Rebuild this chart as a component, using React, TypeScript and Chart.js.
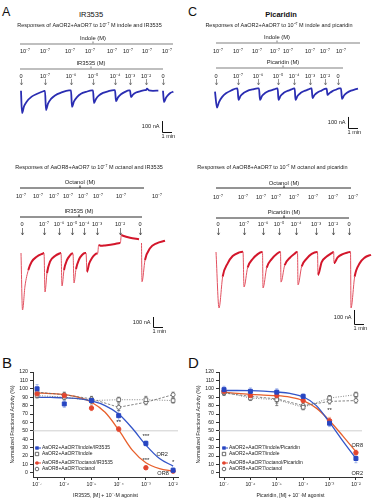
import React, { useEffect, useRef } from 'react';
import { Chart, registerables } from 'chart.js';

Chart.register(...registerables);
if (typeof document !== 'undefined') document.body.style.margin = '0';

const FONT = '"Liberation Sans", Arial, Helvetica, sans-serif';
Chart.defaults.font.family = FONT;
Chart.defaults.color = '#222';

const SUP: Record<string, string> = { '-': '⁻', '0': '⁰', '1': '¹', '2': '²', '3': '³', '4': '⁴', '5': '⁵', '6': '⁶', '7': '⁷', '8': '⁸', '9': '⁹' };
const sup = (v: number) => String(v).split('').map((c) => SUP[c] ?? c).join('');

// ---------------- Panels A / C : current traces  [time (s), current (nA)] ----------------
const traceA_indole: any[] = [
  [126, 2], [132, -200], [144, -140], [160, -97], [190, -51], [220, -27], [264, 0],
  [270, 2], [276, -173], [288, -115], [306, -72], [330, -40], [366, -15], [414, 5],
  [426, 5], [432, -145], [444, -95], [462, -55], [486, -25], [516, -8], [552, 5],
  [558, 5], [564, -109], [576, -72], [594, -40], [618, -17], [648, -3], [684, 8],
  [690, 8], [696, -91], [708, -58], [726, -30], [750, -8], [774, 5],
  [780, 5], [786, -55], [798, -32], [816, -14], [840, -3], [870, 8],
  [876, 8], [882, 22], [894, 6], [918, 2], [950, 3],
  [962, null],
  [978, 2], [984, -100], [996, -62], [1008, -38], [1024, -16], [1040, -6],
];
const traceA_octanol: any[] = [
  [126, 0], [135, -570], [150, -330], [170, -170], [190, -87], [220, -37], [260, -3],
  [264, 0], [270, -390], [282, -200], [300, -87], [330, -30], [360, -3],
  [366, 0], [372, -330], [384, -170], [402, -70], [420, -25], [432, -5],
  [438, -5], [444, -300], [456, -160], [474, -65], [492, -20], [510, 0],
  [516, 0], [522, -190], [534, -110], [552, -50], [570, -15], [580, -5],
  [586, -5], [592, 80], [606, 72], [630, 76], [690, 90], [720, 100],
  [722, 100], [728, 180], [738, 172], [780, 152], [834, 138],
  [843, null],
  [849, 100], [852, -287], [870, -70], [900, 47], [940, 97], [990, 123],
];
const traceC_indole: any[] = [
  [174, -15], [186, -160], [198, -110], [216, -65], [240, -30], [270, -5], [306, 15],
  [309, 15], [315, -90], [327, -55], [345, -28], [369, -8], [399, 5], [429, 15],
  [438, 15], [444, -90], [456, -55], [474, -28], [498, -8], [528, 5], [546, 15],
  [550, 15], [555, -90], [567, -55], [585, -28], [609, -8], [633, 5], [648, 15],
  [652, 15], [657, -90], [669, -55], [687, -28], [711, -8], [735, 5], [750, 15],
  [754, 15], [759, -73], [771, -45], [789, -22], [813, -5], [840, 12],
  [844, 12], [849, -45], [861, -28], [879, -10], [903, 5], [918, 15],
  [930, 15], [936, -80], [948, -50], [966, -25], [990, -5], [1014, 5], [1032, 12],
];
const traceC_octanol: any[] = [
  [180, 0], [198, -400], [220, -176], [250, -81], [280, -29], [320, -3],
  [342, 2], [348, -250], [370, -110], [400, -50], [430, -15], [456, 0],
  [459, 0], [462, -257], [484, -113], [514, -51], [544, -15], [564, 0],
  [567, 0], [570, -215], [592, -95], [622, -43], [652, -12], [666, 0],
  [669, 0], [672, -235], [694, -103], [724, -47], [754, -14], [786, 0],
  [789, 0], [792, -164], [814, -72], [844, -33], [874, -8], [885, 0],
  [886, 0], [888, -79], [910, -38], [940, -15], [970, -3], [984, 0],
  [987, 0], [990, -400], [1012, -176], [1042, -81], [1072, -40], [1110, -20],
];

const repellentLabels = ['0', '10⁻⁷', '10⁻⁶', '10⁻⁵', '10⁻⁴', '10⁻³', '10⁻²', '0'];
const agonistLabel = '10⁻⁷';

const A_indole_stim = [126, 270, 426, 558, 690, 780, 876, 978];
const A_indole_ago = [150, 270, 420, 540, 672, 768, 882, 1002];
const A_octanol_stim = [132, 264, 354, 432, 504, 582, 720, 840];
const A_octanol_ago = [126, 228, 324, 408, 498, 588, 726, 942];
const C_indole_stim = [180, 312, 432, 552, 648, 744, 834, 912];
const C_indole_ago = [192, 312, 426, 534, 612, 744, 834, 930];
const C_octanol_stim = [192, 348, 462, 558, 660, 780, 882, 978];
const C_octanol_ago = [192, 342, 450, 540, 648, 762, 882, 1002];

// ---------------- Panels B / D : dose–response ----------------
const concLog = [-7, -6, -5, -4, -3, -2];
const fitLog = [-7, -6.5, -6, -5.5, -5, -4.5, -4, -3.5, -3, -2.5, -2];
const xTicks = [-7, -6, -5, -4, -3, -2];
const yTicks = [0, 10, 20, 30, 40, 50, 60, 70, 80, 90, 100, 110, 120];

const B_or2_ir3535 = [100, 82, 86, 68, 35, 3];
const B_or2_ir3535_err = [5, 4, 3, 6, 3, 3];
const B_or2_indole = [92, 90, 86, 87, 87, 86];
const B_or2_indole_err = [3, 3, 4, 3, 4, 3];
const B_or8_ir3535 = [94, 92, 77, 52, 6, 2];
const B_or8_ir3535_err = [4, 3, 3, 3, 2, 2];
const B_or8_octanol = [96, 93, 88, 78, 84, 93];
const B_or8_octanol_err = [3, 3, 3, 4, 3, 3];
const B_fit_or2 = [90, 89.7, 89.3, 88.3, 85.5, 80, 70, 53, 33, 17, 8];
const B_fit_or8 = [95, 94.3, 93, 90, 84, 72, 51, 27, 12, 5, 2];

const D_or2_picaridin = [99, 97, 96, 91, 59, 17];
const D_or2_picaridin_err = [4, 4, 4, 3, 4, 5];
const D_or2_indole = [96, 89, 87, 78, 89, 93];
const D_or2_indole_err = [3, 3, 7, 3, 3, 3];
const D_or8_picaridin = [97, 92, 92, 86, 62, 24];
const D_or8_picaridin_err = [3, 3, 3, 3, 4, 3];
const D_or8_octanol = [95, 91, 88, 80, 85, 86];
const D_or8_octanol_err = [3, 3, 5, 3, 3, 3];
const D_fit_or2 = [98, 98, 97.8, 97.3, 96.2, 94.5, 90.5, 80, 60, 38, 17];
const D_fit_or8 = [96, 94.5, 93.3, 92.5, 91.8, 90, 86, 77, 62, 44, 25];

const B_notes = [
  { x: -2.4, y: 22, t: 'OR2' }, { x: -2.37, y: -1, t: 'OR8' },
  { x: -3, y: 43, t: '***' }, { x: -3, y: 15, t: '***' }, { x: -4, y: 60, t: '**' }, { x: -2, y: 12, t: '*' },
];
const D_notes = [
  { x: -1.95, y: 32, t: 'OR8' }, { x: -1.95, y: -1, t: 'OR2' }, { x: -3, y: 74, t: '**' },
];

const BLUE = '#2746c2';
const RED = '#e2452f';
const BLUE_CURVE = '#3355c8';
const RED_CURVE = '#e8602c';

// ---------------- trace chart ----------------
function makeTracePlugin(s: any) {
  return {
    id: 'traceHeader',
    afterDatasetsDraw(chart: any) {
      const { ctx } = chart;
      const x = chart.scales.x;
      const y = chart.scales.y;
      const py = (v: number) => v - s.top;
      const X = (t: number) => x.getPixelForValue(t);
      ctx.save();
      ctx.textAlign = 'center';
      ctx.textBaseline = 'middle';
      ctx.fillStyle = '#222';
      ctx.font = `5.5px ${FONT}`;
      ctx.fillText(s.title, s.titleX, py(s.hy.title));
      ctx.font = `5.8px ${FONT}`;
      ctx.fillText(s.agoName, X(s.agoNameT), py(s.hy.agoName));
      ctx.fillText(s.repName, X(s.repNameT), py(s.hy.repName));
      ctx.strokeStyle = s.lineColor;
      ctx.lineWidth = s.lineWidth;
      const hline = (t0: number, t1: number, yy: number, tc: number) => {
        ctx.beginPath();
        ctx.moveTo(X(t0), yy);
        ctx.lineTo(X(t1), yy);
        ctx.moveTo(X(tc), yy);
        ctx.lineTo(X(tc), yy - 2.5);
        ctx.stroke();
      };
      hline(s.agoLine[0], s.agoLine[1], py(s.hy.agoLine), s.agoNameT);
      hline(s.repLine[0], s.repLine[1], py(s.hy.repLine), s.repNameT);
      ctx.font = `5.6px ${FONT}`;
      s.agoTimes.forEach((t: number) => ctx.fillText(agonistLabel, X(t), py(s.hy.agoLabels)));
      s.stimTimes.forEach((t: number, i: number) => ctx.fillText(repellentLabels[i], X(t), py(s.hy.repLabels)));
      ctx.strokeStyle = s.arrowColor;
      ctx.lineWidth = 0.7;
      s.stimTimes.forEach((t: number) => {
        const px = Math.round(X(t)) + 0.5;
        const a = py(s.hy.arrowTop);
        const b = py(s.hy.arrowBottom);
        ctx.beginPath();
        ctx.moveTo(px, a);
        ctx.lineTo(px, b);
        ctx.moveTo(px - 1.2, b - 2.2);
        ctx.lineTo(px, b);
        ctx.lineTo(px + 1.2, b - 2.2);
        ctx.stroke();
      });
      const bx = Math.round(X(s.bar.t)) + 0.5;
      const by0 = y.getPixelForValue(s.bar.v0);
      const by1 = Math.round(y.getPixelForValue(s.bar.v1)) + 0.5;
      const bx1 = X(s.bar.t + s.bar.dt);
      ctx.strokeStyle = '#111';
      ctx.lineWidth = 1;
      ctx.beginPath();
      ctx.moveTo(bx, by0);
      ctx.lineTo(bx, by1);
      ctx.lineTo(bx1, by1);
      ctx.stroke();
      ctx.font = `5.6px ${FONT}`;
      ctx.textAlign = 'right';
      ctx.fillText('100 nA', bx - 3, (by0 + by1) / 2);
      ctx.textAlign = 'left';
      ctx.textBaseline = 'top';
      ctx.fillText('1 min', bx - 1, by1 + 1.5);
      ctx.restore();
    },
  };
}

function TraceChart({ s }: any) {
  const ref = useRef<HTMLCanvasElement>(null);
  useEffect(() => {
    const steepness = (c: any) => Math.abs(c.p1.y - c.p0.y) / Math.max(0.5, Math.abs(c.p1.x - c.p0.x));
    const segment = s.steep
      ? {
          borderColor: (c: any) => (steepness(c) > 4 ? s.steep : s.color),
          borderWidth: (c: any) => (steepness(c) > 4 ? 1 : s.width),
        }
      : undefined;
    const chart = new Chart(ref.current as any, {
      type: 'line',
      data: {
        datasets: [
          {
            data: s.data.map((p: any) => ({ x: p[0], y: p[1] })),
            borderColor: s.color,
            borderWidth: s.width,
            pointRadius: 0,
            cubicInterpolationMode: 'monotone',
            spanGaps: false,
            segment,
          } as any,
        ],
      },
      options: {
        animation: false,
        responsive: false,
        events: [],
        layout: { padding: { top: s.padTop, left: 0, right: 0, bottom: 0 } },
        scales: {
          x: { type: 'linear', display: false, min: 0, max: s.xMax },
          y: { type: 'linear', display: false, min: s.yMin, max: s.yMax },
        },
        plugins: { legend: { display: false }, tooltip: { enabled: false } },
      },
      plugins: [makeTracePlugin(s)],
    });
    return () => chart.destroy();
  }, []);
  return (
    <canvas ref={ref} width={s.w} height={s.h}
      style={{ position: 'absolute', left: s.left, top: s.top, width: s.w, height: s.h }} />
  );
}

// ---------------- dose-response chart ----------------
function makeDosePlugin(s: any) {
  return {
    id: 'doseExtras',
    beforeDatasetsDraw(chart: any) {
      const { ctx, chartArea: ca } = chart;
      const x = chart.scales.x;
      const y = chart.scales.y;
      ctx.save();
      ctx.strokeStyle = '#c4c4c4';
      ctx.lineWidth = 0.8;
      const y50 = y.getPixelForValue(50);
      ctx.beginPath();
      ctx.moveTo(ca.left, y50);
      ctx.lineTo(ca.right, y50);
      ctx.stroke();
      chart.data.datasets.forEach((ds: any) => {
        if (!ds.errors) return;
        ctx.strokeStyle = ds.errColor;
        ctx.lineWidth = 0.8;
        ds.data.forEach((p: any, j: number) => {
          const e = ds.errors[j];
          const px = x.getPixelForValue(p.x);
          const a = y.getPixelForValue(p.y + e);
          const b = y.getPixelForValue(p.y - e);
          ctx.beginPath();
          ctx.moveTo(px, a); ctx.lineTo(px, b);
          ctx.moveTo(px - 1.5, a); ctx.lineTo(px + 1.5, a);
          ctx.moveTo(px - 1.5, b); ctx.lineTo(px + 1.5, b);
          ctx.stroke();
        });
      });
      ctx.restore();
    },
    afterDatasetsDraw(chart: any) {
      const { ctx, chartArea: ca } = chart;
      const x = chart.scales.x;
      const y = chart.scales.y;
      ctx.save();
      ctx.fillStyle = '#222';
      ctx.textAlign = 'center';
      ctx.textBaseline = 'middle';
      s.notes.forEach((n: any) => {
        ctx.font = `${n.t.startsWith('*') ? 6 : 5.6}px ${FONT}`;
        ctx.fillText(n.t, x.getPixelForValue(n.x), y.getPixelForValue(n.y));
      });
      const lx = ca.left + s.legendDx;
      const rows = [ca.bottom - 29, ca.bottom - 23, ca.bottom - 14, ca.bottom - 8];
      ctx.font = `5px ${FONT}`;
      ctx.textAlign = 'left';
      s.legend.forEach((it: any, i: number) => {
        const yy = rows[i];
        if (it.line) {
          ctx.strokeStyle = it.color;
          ctx.lineWidth = 1;
          ctx.beginPath();
          ctx.moveTo(lx - 2, yy);
          ctx.lineTo(lx + 4, yy);
          ctx.stroke();
        }
        ctx.lineWidth = 0.8;
        ctx.beginPath();
        if (it.shape === 'rect') ctx.rect(lx - 1.7, yy - 1.7, 3.4, 3.4);
        else ctx.arc(lx, yy, 1.8, 0, Math.PI * 2);
        if (it.filled) { ctx.fillStyle = it.color; ctx.fill(); }
        else { ctx.fillStyle = '#fff'; ctx.fill(); ctx.strokeStyle = '#444'; ctx.stroke(); }
        ctx.fillStyle = '#222';
        ctx.fillText(it.text, lx + 5, yy);
      });
      ctx.restore();
    },
  };
}

function DoseChart({ s }: any) {
  const ref = useRef<HTMLCanvasElement>(null);
  useEffect(() => {
    const pts = (arr: number[]) => concLog.map((v, i) => ({ x: v, y: arr[i] }));
    const fpts = (arr: number[]) => fitLog.map((v, i) => ({ x: v, y: arr[i] }));
    const tickFont = { size: 5.2, family: FONT };
    const chart = new Chart(ref.current as any, {
      type: 'scatter',
      data: {
        datasets: [
          { data: pts(s.or2), errors: s.or2Err, errColor: '#8ea6e6', pointStyle: 'rect', pointRadius: 2.8,
            pointBackgroundColor: BLUE, pointBorderColor: BLUE, showLine: false },
          { data: pts(s.or8), errors: s.or8Err, errColor: '#f0a28c', pointStyle: 'circle', pointRadius: 2.2,
            pointBackgroundColor: RED, pointBorderColor: RED, showLine: false },
          { data: pts(s.ind), errors: s.indErr, errColor: '#666', pointStyle: 'rect', pointRadius: 2.6,
            pointBackgroundColor: '#fff', pointBorderColor: '#555', pointBorderWidth: 0.8, showLine: true,
            borderColor: '#666', borderWidth: 0.8, borderDash: [1, 1.5] },
          { data: pts(s.oct), errors: s.octErr, errColor: '#666', pointStyle: 'circle', pointRadius: 2,
            pointBackgroundColor: '#fff', pointBorderColor: '#555', pointBorderWidth: 0.8, showLine: true,
            borderColor: '#666', borderWidth: 0.8, borderDash: [2.5, 1.5] },
          { data: fpts(s.fit2), pointRadius: 0, showLine: true, borderColor: BLUE_CURVE, borderWidth: 1.3,
            cubicInterpolationMode: 'monotone' },
          { data: fpts(s.fit8), pointRadius: 0, showLine: true, borderColor: RED_CURVE, borderWidth: 1.3,
            cubicInterpolationMode: 'monotone' },
        ] as any,
      },
      options: {
        animation: false,
        responsive: false,
        events: [],
        layout: { padding: { top: 27, right: s.padRight, left: 0, bottom: 0 } },
        scales: {
          x: {
            type: 'linear', min: s.xMin, max: s.xMax,
            afterBuildTicks: (a: any) => { a.ticks = xTicks.map((v) => ({ value: v })); },
            afterFit: (sc: any) => { sc.height = 23; },
            ticks: { callback: (v: any) => '10' + sup(v), font: tickFont, color: '#222', padding: 1, maxRotation: 0, autoSkip: false },
            grid: { display: true, drawOnChartArea: false, drawTicks: true, tickLength: 3, color: '#333' },
            border: { display: true, color: '#333', width: 1 },
            title: { display: true, text: s.xTitle, font: { size: 5.2, family: FONT }, color: '#222', padding: { top: 0, bottom: 1 } },
          },
          y: {
            type: 'linear', min: -5, max: 120,
            afterBuildTicks: (a: any) => { a.ticks = yTicks.map((v) => ({ value: v })); },
            afterFit: (sc: any) => { sc.width = 33; },
            ticks: { font: tickFont, color: '#222', padding: 2, autoSkip: false },
            grid: { display: true, drawOnChartArea: false, drawTicks: true, tickLength: 3, color: '#333' },
            border: { display: true, color: '#333', width: 1 },
            title: { display: true, text: 'Normalized Fractional Activity (%)', font: { size: 5.2, family: FONT }, color: '#222', padding: { top: 9, bottom: 0 } },
          },
        },
        plugins: { legend: { display: false }, tooltip: { enabled: false } },
      } as any,
      plugins: [makeDosePlugin(s)],
    });
    return () => chart.destroy();
  }, []);
  return (
    <canvas ref={ref} width={s.w} height={s.h}
      style={{ position: 'absolute', left: s.left, top: s.top, width: s.w, height: s.h }} />
  );
}

// ---------------- specs ----------------
const specA1 = {
  left: 0, top: 15, w: 186, h: 125, padTop: 70, xMax: 1116, yMin: -445, yMax: 54.5,
  data: traceA_indole, color: '#2a2db2', width: 1.8,
  title: 'Responses of AaOR2+AaOR7 to 10⁻⁷ M indole and IR3535', titleX: 89.5,
  hy: { title: 25, agoName: 38, agoLine: 44, agoLabels: 51, repName: 63, repLine: 69, repLabels: 76, arrowTop: 79, arrowBottom: 85 },
  agoName: 'Indole (M)', agoNameT: 558, agoLine: [120, 1038], agoTimes: A_indole_ago,
  repName: 'IR3535 (M)', repNameT: 546, repLine: [120, 978], stimTimes: A_indole_stim,
  lineColor: '#aaaaaa', lineWidth: 1.5, arrowColor: '#666',
  bar: { t: 972, v0: -273, v1: -373, dt: 60 },
};
const specA2 = {
  left: 0, top: 158, w: 186, h: 180, padTop: 72, xMax: 1116, yMin: -850, yMax: 230,
  data: traceA_octanol, color: '#d3162b', steep: '#e2505f', width: 2,
  title: 'Responses of AaOR8+AaOR7 to 10⁻⁷ M octanol and IR3535', titleX: 89,
  hy: { title: 167, agoName: 182, agoLine: 188, agoLabels: 196, repName: 211, repLine: 217, repLabels: 224, arrowTop: 228, arrowBottom: 235 },
  agoName: 'Octanol (M)', agoNameT: 480, agoLine: [120, 864], agoTimes: A_octanol_ago,
  repName: 'IR3535 (M)', repNameT: 474, repLine: [120, 852], stimTimes: A_octanol_stim,
  lineColor: '#111', lineWidth: 0.9, arrowColor: '#444',
  bar: { t: 918, v0: -640, v1: -740, dt: 60 },
};
const specC1 = {
  left: 186, top: 15, w: 187, h: 125, padTop: 70, xMax: 1122, yMin: -454.5, yMax: 45.5,
  data: traceC_indole, color: '#2a2db2', width: 1.8,
  title: 'Responses of AaOR2+AaOR7 to 10⁻⁷ M indole and picaridin', titleX: 93,
  hy: { title: 25, agoName: 37, agoLine: 43, agoLabels: 51, repName: 62, repLine: 68, repLabels: 76, arrowTop: 79, arrowBottom: 85 },
  agoName: 'Indole (M)', agoNameT: 546, agoLine: [180, 1044], agoTimes: C_indole_ago,
  repName: 'Picaridin (M)', repNameT: 582, repLine: [180, 942], stimTimes: C_indole_stim,
  lineColor: '#aaaaaa', lineWidth: 1.5, arrowColor: '#666',
  bar: { t: 972, v0: -245, v1: -345, dt: 60 },
};
const specC2 = {
  left: 186, top: 158, w: 187, h: 180, padTop: 72, xMax: 1122, yMin: -614, yMax: 157,
  data: traceC_octanol, color: '#d3162b', steep: '#e2505f', width: 2,
  title: 'Responses of AaOR8+AaOR7 to 10⁻⁷ M octanol and picaridin', titleX: 86.5,
  hy: { title: 167, agoName: 183, agoLine: 188, agoLabels: 197, repName: 212, repLine: 218, repLabels: 224, arrowTop: 228, arrowBottom: 235 },
  agoName: 'Octanol (M)', agoNameT: 588, agoLine: [180, 990], agoTimes: C_octanol_ago,
  repName: 'Picaridin (M)', repNameT: 588, repLine: [180, 978], stimTimes: C_octanol_stim,
  lineColor: '#111', lineWidth: 0.9, arrowColor: '#444',
  bar: { t: 1008, v0: -414, v1: -514, dt: 60 },
};

const specB = {
  left: 0, top: 345, w: 186, h: 155, padRight: 8, xMin: -7.15, xMax: -1.82,
  xTitle: 'IR3535, [M] + 10⁻⁷M agonist',
  or2: B_or2_ir3535, or2Err: B_or2_ir3535_err, or8: B_or8_ir3535, or8Err: B_or8_ir3535_err,
  ind: B_or2_indole, indErr: B_or2_indole_err, oct: B_or8_octanol, octErr: B_or8_octanol_err,
  fit2: B_fit_or2, fit8: B_fit_or8, notes: B_notes, legendDx: 4,
  legend: [
    { text: 'AaOR2+AaOR7/indole/IR3535', shape: 'rect', filled: true, line: true, color: BLUE },
    { text: 'AaOR2+AaOR7/indole', shape: 'rect', filled: false },
    { text: 'AaOR8+AaOR7/octanol/IR3535', shape: 'circle', filled: true, line: true, color: RED },
    { text: 'AaOR8+AaOR7/octanol', shape: 'circle', filled: false },
  ],
};
const specD = {
  left: 186, top: 345, w: 187, h: 155, padRight: 11, xMin: -7.19, xMax: -1.77,
  xTitle: 'Picaridin, [M] + 10⁻⁷M agonist',
  or2: D_or2_picaridin, or2Err: D_or2_picaridin_err, or8: D_or8_picaridin, or8Err: D_or8_picaridin_err,
  ind: D_or2_indole, indErr: D_or2_indole_err, oct: D_or8_octanol, octErr: D_or8_octanol_err,
  fit2: D_fit_or2, fit8: D_fit_or8, notes: D_notes, legendDx: 5,
  legend: [
    { text: 'AaOR2+AaOR7/indole/Picaridin', shape: 'rect', filled: true, line: true, color: BLUE },
    { text: 'AaOR2+AaOR7/indole', shape: 'rect', filled: false },
    { text: 'AaOR8+AaOR7/octanol/Picaridin', shape: 'circle', filled: true, line: true, color: RED },
    { text: 'AaOR8+AaOR7/octanol', shape: 'circle', filled: false },
  ],
};

const Label = ({ x, y, size, bold, children, center }: any) => (
  <div style={{
    position: 'absolute', left: center ? x - 40 : x, top: y, width: center ? 80 : undefined,
    textAlign: center ? 'center' : 'left', fontSize: size, lineHeight: 1, fontFamily: FONT,
    fontWeight: bold ? 700 : 400, color: '#111', whiteSpace: 'nowrap',
  }}>{children}</div>
);

export default function App() {
  return (
    <div style={{ position: 'relative', width: 373, height: 500, background: '#fff', overflow: 'hidden' }}>
      <Label x={2} y={6} size={12.5}>A</Label>
      <Label x={188} y={6} size={12.5}>C</Label>
      <Label x={91} y={11} size={7.5} center>IR3535</Label>
      <Label x={281} y={11} size={7.5} bold center>Picaridin</Label>
      <Label x={2} y={355} size={15}>B</Label>
      <Label x={188} y={355} size={15}>D</Label>
      <TraceChart s={specA1} />
      <TraceChart s={specA2} />
      <TraceChart s={specC1} />
      <TraceChart s={specC2} />
      <DoseChart s={specB} />
      <DoseChart s={specD} />
    </div>
  );
}
